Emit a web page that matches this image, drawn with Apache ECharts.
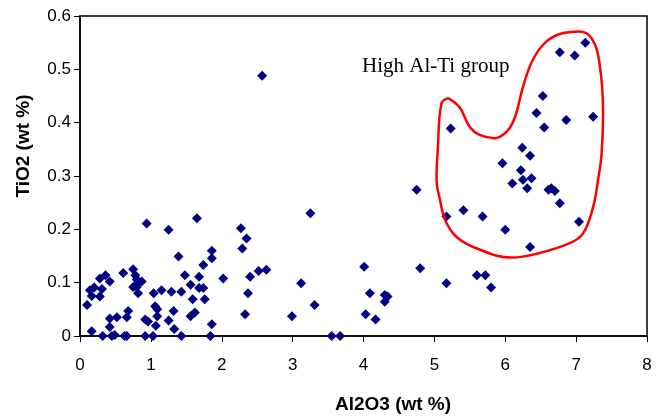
<!DOCTYPE html>
<html><head><meta charset="utf-8">
<script src="https://cdn.jsdelivr.net/npm/echarts@6/dist/echarts.min.js"></script>
<style>html,body{margin:0;padding:0;background:#fff}#c{width:663px;height:420px}</style>
</head><body><div id="c"></div>
<script>
// Al2O3 (wt %) values
const al2o3 = [0.10,0.165,0.14,0.20,0.165,0.28,0.31,0.28,0.36,0.42,0.32,0.42,0.42,0.45,0.49,0.52,0.61,0.63,0.66,0.66,0.68,0.75,0.78,0.80,0.75,0.82,0.87,0.82,0.80,0.94,0.92,0.96,0.92,1.03,1.04,1.06,1.09,1.09,1.07,1.15,1.25,1.25,1.32,1.33,1.29,1.39,1.43,1.43,1.48,1.56,1.59,1.56,1.62,1.65,1.68,1.68,1.74,1.74,1.76,1.86,1.86,1.86,1.84,2.02,2.27,2.35,2.29,2.40,2.37,2.33,2.52,2.63,2.57,
  3.25,3.12,2.99,3.31,3.55,3.67,4.01,4.09,4.30,4.34,4.30,4.03,4.17,4.75,4.80,5.17,5.17,
  7.13,6.77,6.98,6.53,6.44,6.86,7.24,6.55,5.23,6.24,6.35,5.96,6.22,6.37,6.25,6.10,6.31,6.61,6.65,6.70,6.77,5.41,5.68,6.00,7.04,6.35,5.60,5.72,5.80];
// TiO2 (wt %) values
const tio2 = [0.058,0.009,0.086,0.091,0.075,0.074,0.088,0.108,0.114,0.102,0,0.017,0.033,0,0.002,0.035,0.118,0,0,0.035,0.047,0.125,0.114,0.106,0.092,0.100,0.102,0.080,0.092,0.211,0.031,0.027,0,0,0.080,0.056,0.050,0.037,0.019,0.086,0.199,0.029,0.047,0.013,0.083,0.149,0.083,0,0.114,0.096,0.069,0.037,0.044,0.221,0.111,0.090,0.133,0.090,0.069,0.160,0.146,0.022,0,0.108,0.202,0.183,0.164,0.111,0.080,0.041,0.122,0.124,0.488,
  0.230,0.099,0.037,0.058,0,0,0.130,0.080,0.077,0.074,0.064,0.041,0.031,0.274,0.127,0.099,0.224,
  0.550,0.532,0.526,0.450,0.418,0.405,0.411,0.391,0.389,0.353,0.338,0.324,0.311,0.296,0.293,0.286,0.277,0.274,0.277,0.272,0.249,0.236,0.224,0.199,0.214,0.167,0.114,0.114,0.091];
// outline of the "High Al-Ti group" (data coordinates)
const groupX = [5.195,5.36,5.50,5.64,5.85,6.02,6.14,6.25,6.39,6.58,6.82,7.05,7.22,7.33,7.38,7.36,7.31,7.24,7.10,6.91,6.44,6.09,5.60,5.31,5.15,5.08,5.03,5.05,5.10,5.195];
const groupY = [0.446,0.428,0.392,0.377,0.371,0.383,0.411,0.467,0.518,0.552,0.568,0.571,0.558,0.511,0.418,0.343,0.293,0.242,0.193,0.174,0.154,0.147,0.164,0.186,0.218,0.255,0.293,0.355,0.436,0.446];
const xTicks = [0,1,2,3,4,5,6,7,8];
const yTicks = [0,0.1,0.2,0.3,0.4,0.5,0.6];

const chart = echarts.init(document.getElementById('c'));
const axisFont = {fontFamily:'Liberation Sans, Arial', fontSize:17, color:'#000'};
chart.setOption({
  animation:false,
  grid:{left:80, right:16, top:16, bottom:84, show:true, borderColor:'#000', borderWidth:1.5, containLabel:false},
  xAxis:{type:'value', min:xTicks[0], max:xTicks[xTicks.length-1], interval:1,
    axisLine:{show:true, onZero:false, lineStyle:{color:'#000', width:1.5}},
    axisTick:{show:true, inside:false, length:6, lineStyle:{color:'#000'}},
    axisLabel:Object.assign({margin:21}, axisFont),
    splitLine:{show:false}},
  yAxis:{type:'value', min:yTicks[0], max:yTicks[yTicks.length-1], interval:0.1,
    axisLine:{show:true, onZero:false, lineStyle:{color:'#000', width:1.5}},
    axisTick:{show:true, inside:false, length:6, lineStyle:{color:'#000'}},
    axisLabel:Object.assign({margin:9, formatter:v=>String(+v.toFixed(1))}, axisFont),
    splitLine:{show:false}},
  graphic:[
    {type:'text', left:362, top:56, style:{text:'High Al-Ti group', font:'21px "Liberation Serif", "Times New Roman", serif', fill:'#000'}},
    {type:'text', x:393, y:405, style:{text:'Al2O3 (wt %)', font:'bold 19px "Liberation Sans", Arial, sans-serif', fill:'#000', align:'center', verticalAlign:'middle'}},
    {type:'text', x:24, y:146, rotation:Math.PI/2, style:{text:'TiO2 (wt %)', font:'bold 19px "Liberation Sans", Arial, sans-serif', fill:'#000', align:'center', verticalAlign:'middle'}}
  ],
  series:[
    {type:'scatter', symbol:'diamond', symbolSize:10, itemStyle:{color:'#000080', opacity:1},
     data:al2o3.map((x,i)=>[x,tio2[i]])},
    {type:'line', smooth:0.4, symbol:'none', lineStyle:{color:'#ff0000', width:2.5},
     data:groupX.map((x,i)=>[x,groupY[i]]), z:3}
  ]
});
</script></body></html>
